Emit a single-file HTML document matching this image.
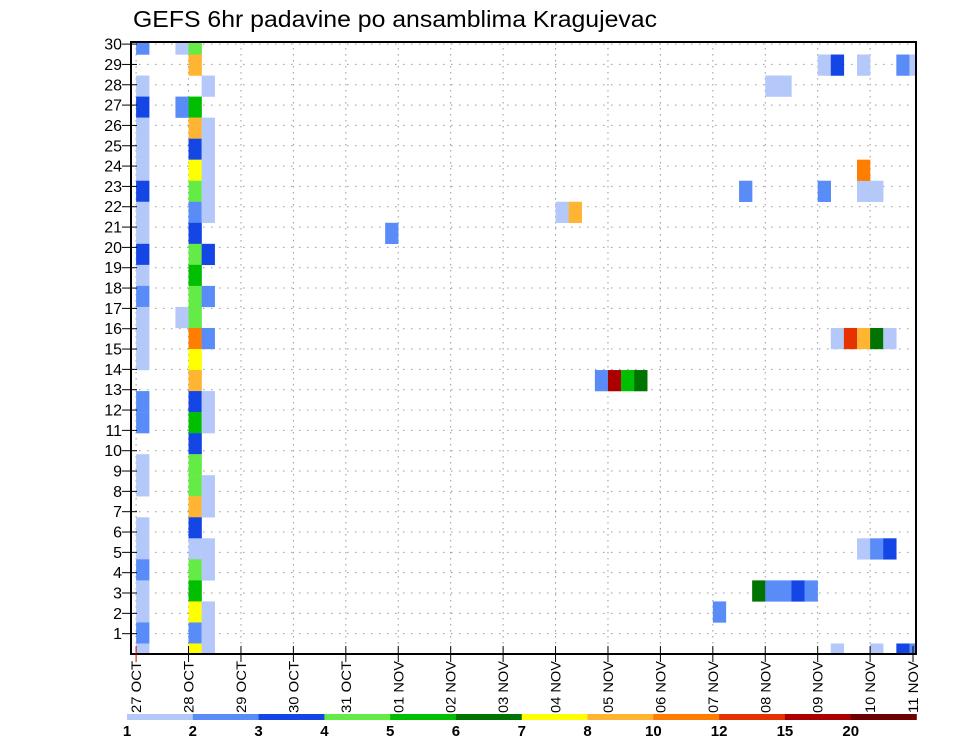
<!DOCTYPE html>
<html><head><meta charset="utf-8"><style>
html,body{margin:0;padding:0;background:#fff;}
svg{display:block;}
text{font-family:"Liberation Sans",sans-serif;fill:#000;}
</style></head><body>
<svg id="chart" width="960" height="742" viewBox="0 0 960 742" xmlns="http://www.w3.org/2000/svg">
<text x="133" y="27" font-size="23" textLength="524" lengthAdjust="spacingAndGlyphs">GEFS 6hr padavine po ansamblima Kragujevac</text>
<defs><clipPath id="plotclip"><rect x="131" y="42" width="785" height="612"/></clipPath></defs>
<g id="grid"></g>
<g id="cells" clip-path="url(#plotclip)"></g>
<rect x="131" y="42" width="785" height="612" fill="none" stroke="#000" stroke-width="2"/>
<g id="yaxis"></g>
<g id="xaxis"></g>
<g id="legend"></g>
</svg>
<script>
const NS = "http://www.w3.org/2000/svg";
const dayLabels = ["27 OCT","28 OCT","29 OCT","30 OCT","31 OCT","01 NOV","02 NOV","03 NOV","04 NOV","05 NOV","06 NOV","07 NOV","08 NOV","09 NOV","10 NOV","11 NOV"];
const memberLabels = [1,2,3,4,5,6,7,8,9,10,11,12,13,14,15,16,17,18,19,20,21,22,23,24,25,26,27,28,29,30];
const legendLabels = ["1","2","3","4","5","6","7","8","10","12","15","20"];
const levelColors = ["#b4c8fa","#5a8cf8","#1446e6","#64eb46","#00be00","#007300","#ffff00","#ffb432","#ff7d00","#e63200","#aa0000","#6e0000"];
// cells: member, 6h step index (0 = 27 OCT 00z), color level
const cellMember = [30,28,27,26,25,24,23,22,21,20,19,18,17,16,15,13,12,10,9,7,6,5,4,3,2,1,
 30,27,17,
 30,29,27,26,25,24,23,22,21,20,19,18,17,16,15,14,13,12,11,10,9,8,7,6,5,4,3,2,1,
 28,26,25,24,23,22,20,18,16,13,12,9,8,6,5,3,2,1,
 21,22,22,14,14,14,14,3,23,4,4,4,4,4,28,28,
 29,29,29,29,29,23,23,23,24,16,16,16,16,16,6,6,6,1,1,1,1];
const cellStep = [0,0,0,0,0,0,0,0,0,0,0,0,0,0,0,0,0,0,0,0,0,0,0,0,0,0,
 3,3,3,
 4,4,4,4,4,4,4,4,4,4,4,4,4,4,4,4,4,4,4,4,4,4,4,4,4,4,4,4,4,
 5,5,5,5,5,5,5,5,5,5,5,5,5,5,5,5,5,5,
 19,32,33,35,36,37,38,44,46,47,48,49,50,51,48,49,
 52,53,55,58,59,52,55,56,55,53,54,55,56,57,55,56,57,53,56,58,59];
const cellLevel = [1,0,2,0,0,0,2,0,0,2,0,1,0,0,0,1,1,0,0,0,0,1,0,0,1,0,
 0,1,0,
 3,7,4,7,2,6,3,1,2,3,4,3,3,8,6,7,2,4,2,3,3,7,2,0,3,4,6,1,6,
 0,0,0,0,0,0,2,1,1,0,0,0,0,0,0,0,0,0,
 1,0,7,1,10,4,5,1,1,5,1,1,2,1,0,0,
 0,2,0,1,0,1,0,0,8,0,9,7,5,0,0,1,2,0,0,2,1];

const X0 = 136.1, DAY = 52.43, STEP = DAY/4;
const xDay = d => X0 + d*DAY;
const xStep = s => X0 + s*STEP;
const yLabel = k => 654 - k*20.33;
const CELLH = 610/29;
const yMember = m => 654 - (m-1)*CELLH;

function mk(tag, attrs, parent){ const e=document.createElementNS(NS,tag); for(const k in attrs) e.setAttribute(k,attrs[k]); parent.appendChild(e); return e; }

const grid = document.getElementById('grid');
memberLabels.forEach(k=>{
  const l = mk('line',{x1:131,x2:916,y1:yLabel(k),y2:yLabel(k),stroke:'#999','stroke-width':1,'stroke-dasharray':'1.5 6.5'},grid);
  
  
});
dayLabels.forEach((d,i)=>{
  const x=xDay(i); if(x>915) return;
  const l = mk('line',{x1:x,x2:x,y1:42,y2:654,stroke:'#999','stroke-width':1,'stroke-dasharray':'1.5 4.5'},grid);
  
  
});

const cells = document.getElementById('cells');
cellMember.forEach((m,i)=>{
  const r = mk('rect',{x:xStep(cellStep[i]),y:yMember(m)-CELLH/2,width:STEP+0.2,height:CELLH+0.2,fill:levelColors[cellLevel[i]]},cells);
  
  
});

const ya = document.getElementById('yaxis');
memberLabels.forEach(k=>{
  const y=yLabel(k);
  const t = mk('line',{x1:122,x2:137,y1:y,y2:y,stroke:'#000','stroke-width':1},ya);
  
  
  const tx = mk('text',{x:122,y:y+5.5,'font-size':16,'text-anchor':'end'},ya);
  tx.textContent = k;
  
  
});

const xa = document.getElementById('xaxis');
dayLabels.forEach((d,i)=>{
  const x=Math.min(xDay(i),913);
  const t = mk('line',{x1:x,x2:x,y1:646,y2:662,stroke:i===0?'#c00':'#000','stroke-width':1},xa);
  
  
  const tx = mk('text',{x:0,y:0,'font-size':14,'text-anchor':'end',transform:`translate(${x+5},661) rotate(-90)`,textLength:52,lengthAdjust:'spacingAndGlyphs'},xa);
  tx.textContent = d;
  
  
});

const lg = document.getElementById('legend');
const LX0=127, LW=(916.5-127)/levelColors.length;
levelColors.forEach((c,i)=>{
  const r = mk('rect',{x:LX0+i*LW,y:714,width:LW+0.3,height:6,fill:c},lg);
  
  
});
legendLabels.forEach((s,i)=>{
  const t = mk('text',{x:LX0+i*LW,y:736,'font-size':15,'font-weight':'bold','text-anchor':'middle'},lg);
  t.textContent = s;
  
  
});
</script>
</body></html>
